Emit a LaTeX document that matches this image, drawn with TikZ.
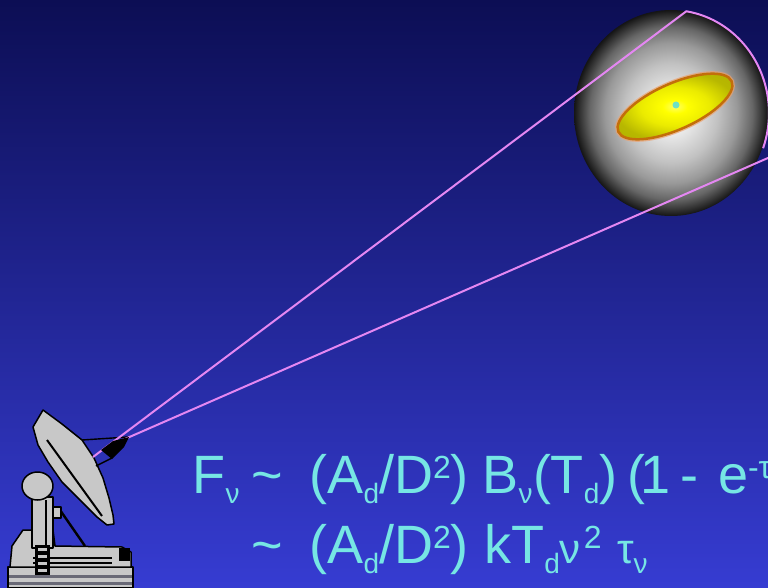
\documentclass[tikz,border=0pt]{standalone}
\usepackage{fontspec}
\setmainfont{Liberation Sans}
\definecolor{bgtop}{RGB}{12,14,84}
\definecolor{bgmid}{RGB}{32,42,160}
\definecolor{bgbot}{RGB}{54,60,210}
\definecolor{eqcyan}{RGB}{118,230,228}
\definecolor{beamcol}{RGB}{228,135,242}
\definecolor{metalgray}{RGB}{200,200,200}
\definecolor{stripegray}{RGB}{105,105,118}
\definecolor{galrim}{RGB}{195,110,10}
\definecolor{galhalo}{RGB}{235,160,110}
\definecolor{corecol}{RGB}{110,225,195}

% grey ball, light in the middle and dark at the rim (25bp = rim of the path)
\pgfdeclareradialshading{globe}{\pgfpoint{0bp}{0bp}}{color(0bp)=(black!4); color(5bp)=(black!8); color(12bp)=(black!24); color(17bp)=(black!40); color(21bp)=(black!60); color(23.5bp)=(black!80); color(25bp)=(black!92); color(50bp)=(black)}
% yellow disc of the galaxy
\pgfdeclareradialshading{galaxy}{\pgfpoint{0bp}{0bp}}{color(0bp)=(yellow!60!white); color(5bp)=(yellow); color(14bp)=(yellow!92!black); color(25bp)=(yellow!72!black); color(50bp)=(yellow!65!black)}

\newcommand\subtx[1]{\raisebox{-10pt}{\fontsize{28}{28}\selectfont #1}}
\newcommand\suptx[1]{\raisebox{15pt}{\fontsize{32}{32}\selectfont #1}}

\begin{document}
\begin{tikzpicture}[x=1pt,y=-1pt,
  metal/.style={fill=metalgray, draw=black, line width=1.5pt, line join=round},
  beamline/.style={draw=beamcol, line width=2pt},
  eq/.style={text=eqcyan, inner sep=0pt, outer sep=0pt, anchor=base west,
             font=\fontsize{54}{54}\selectfont}]
\useasboundingbox (0,0) rectangle (768,588);
\clip (0,0) rectangle (768,588);

% sky
\shade[top color=bgtop, middle color=bgmid, bottom color=bgbot] (0,0) rectangle (768,588);

% dusty halo and galaxy
\shade[shading=globe] (671,113) ellipse [x radius=97pt, y radius=103pt];
\begin{scope}[shift={(675,106.5)}, rotate=24]
  \draw[galhalo, line width=5pt, opacity=0.7] (0,0) ellipse [x radius=62pt, y radius=23pt];
  \shade[shading=galaxy, draw=galrim, line width=2.5pt] (0,0) ellipse [x radius=62pt, y radius=23pt];
\end{scope}
\fill[corecol] (676,105) circle [radius=3.5pt];

% radio telescope: base plates
\draw[metal] (8,567) rectangle (133,588);
\fill[stripegray] (9,575) rectangle (132,578);
\fill[stripegray] (9,582) rectangle (132,585);
\draw[metal] (23,530) -- (12,546) -- (10,567) -- (131,567) -- (131,552) -- (122,547)
  -- (55,546) -- (53,530) -- cycle;
\draw[line width=1.2pt] (33,558) -- (112,558) (33,563) -- (112,563);
\fill (119,548) rectangle (130,561);

% support strut and pedestal
\draw[line width=2.4pt] (60,510) -- (85,546);
\draw[metal, line width=2pt] (32,497) rectangle (53,548);
\draw[line width=1.6pt] (46,500) -- (46,546);
\draw[metal] (53,507) rectangle (61,518);

% ladder
\fill (35,545) rectangle (50,575);
\foreach \yy in {548,555,562,569}
  \fill[metalgray] (38,\yy) rectangle (47,\yy+3);

% counterweight
\draw[metal] (37.5,486) ellipse [x radius=15.5pt, y radius=14pt];

% dish
\draw[metal] (43,410) -- (62,424) -- (82,440) -- (94,458) -- (103,478) -- (109,498)
  -- (113,515) -- (114,524) -- (107,525) -- (97,517) -- (80,500) -- (62,482)
  -- (48,462) -- (38,445) -- (33,427) -- cycle;
\draw[line width=2pt] (47,440) -- (102,516);
\draw[line width=1.4pt] (82,440) -- (128,437);
\draw[line width=1.4pt] (96,466) -- (112,458);

% beam outline from the feed to the source
\coordinate (beamU) at (93,457);
\coordinate (beamL) at (118,442);
\coordinate (capTop) at (686.3,11.3);
\coordinate (beamFar) at (800,144);
\draw[beamline] (beamU) -- (capTop)
  arc[start angle=81, end angle=-20, x radius=98pt, y radius=103pt];
\draw[beamline] (beamL) -- (beamFar);

% feed horn
\fill (101,450) -- (113,441) -- (129,437) -- (124,447) -- (112,459) -- cycle;

% flux relation, first line
\node[eq] (fnu)   at (192.6,493) {F\subtx{ν}};
\node[eq] (sim1)  at (251,493)   {\textasciitilde};
\node[eq] (geo1)  at (309.6,493) {(A\subtx{d}/D\suptx{2})};
\node[eq] (bnu)   at (482.6,493) {B\subtx{ν}};
\node[eq] (tdust) at (533,493)   {(T\subtx{d})};
\node[eq] (opn)   at (627,493)   {(};
\node[eq] (one)   at (640,493)   {1};
\node[eq] (minus) at (680,493)   {-};
\node[eq] (expo)  at (718,493)   {e\suptx{-τ\subtx{ν}})};

% flux relation, second line
\node[eq] (sim2)  at (251,563)   {\textasciitilde};
\node[eq] (geo2)  at (309.6,563) {(A\subtx{d}/D\suptx{2})};
\node[eq] (rj)    at (484.4,563) {kT\subtx{d}{\fontsize{42}{42}\selectfont ν}\kern3pt\suptx{2}};
\node[eq] (tau)   at (617,563)   {{\fontsize{42}{42}\selectfont τ}\subtx{ν}};
\end{tikzpicture}
\end{document}
